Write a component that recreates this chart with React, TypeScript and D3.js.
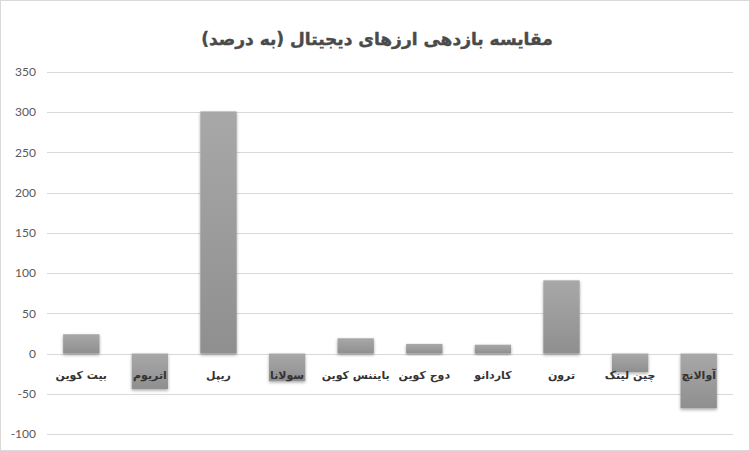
import React, { useEffect, useRef } from 'react';
import * as d3 from 'd3';

const W = 750;
const H = 451;

const TITLE = 'مقایسه بازدهی ارزهای دیجیتال (به درصد)';
const coins = ['بیت کوین', 'اتریوم', 'ریپل', 'سولانا', 'بایننس کوین', 'دوج کوین', 'کاردانو', 'ترون', 'چین لینک', 'آوالانچ'];
const returns = [24, -44, 301, -34, 19, 12, 11, 91, -23, -68];
const yTicks = [-100, -50, 0, 50, 100, 150, 200, 250, 300, 350];

export default function App() {
  const svgRef = useRef<SVGSVGElement>(null);

  useEffect(() => {
    document.body.style.margin = '0';
    if (!svgRef.current) return;
    const svg = d3.select(svgRef.current);
    svg.selectAll('*').remove();

    const margin = { top: 72, right: 17, bottom: 17, left: 47 };

    const x = d3.scaleBand<string>()
      .domain(coins)
      .range([margin.left, W - margin.right])
      .paddingInner(0.47)
      .paddingOuter(0.235);

    const y = d3.scaleLinear()
      .domain([-100, 350])
      .range([H - margin.bottom, margin.top]);

    const defs = svg.append('defs');
    const grad = defs.append('linearGradient')
      .attr('id', 'barGrad')
      .attr('x1', 0).attr('y1', 0).attr('x2', 0).attr('y2', 1);
    grad.append('stop').attr('offset', '0%').attr('stop-color', '#a8a8a8');
    grad.append('stop').attr('offset', '100%').attr('stop-color', '#8f8f8f');

    const shadow = defs.append('filter')
      .attr('id', 'shadow')
      .attr('x', '-20%').attr('y', '-20%').attr('width', '140%').attr('height', '140%');
    shadow.append('feDropShadow')
      .attr('dx', 0).attr('dy', 1.5)
      .attr('stdDeviation', 1.5)
      .attr('flood-color', '#000')
      .attr('flood-opacity', 0.35);

    // frame
    svg.append('rect')
      .attr('x', 0.5).attr('y', 0.5)
      .attr('width', W - 1).attr('height', H - 1)
      .attr('fill', '#fff')
      .attr('stroke', '#d9d9d9');

    // gridlines
    svg.append('g')
      .selectAll('line')
      .data(yTicks)
      .join('line')
      .attr('x1', margin.left)
      .attr('x2', W - margin.right)
      .attr('y1', d => Math.round(y(d)) + 0.5)
      .attr('y2', d => Math.round(y(d)) + 0.5)
      .attr('stroke', '#d9d9d9')
      .attr('stroke-width', 1);

    // y labels
    svg.append('g')
      .selectAll('text')
      .data(yTicks)
      .join('text')
      .attr('x', 36)
      .attr('y', d => y(d))
      .attr('dy', '0.35em')
      .attr('text-anchor', 'end')
      .attr('font-family', 'Lato, "Liberation Sans", sans-serif')
      .attr('font-size', 12)
      .attr('fill', '#595959')
      .text(d => d);

    // bars
    svg.append('g')
      .selectAll('rect')
      .data(returns)
      .join('rect')
      .attr('x', (_, i) => x(coins[i])!)
      .attr('width', x.bandwidth())
      .attr('y', d => y(Math.max(0, d)))
      .attr('height', d => Math.abs(y(d) - y(0)))
      .attr('fill', 'url(#barGrad)')
      .attr('filter', 'url(#shadow)');

    // category labels
    svg.append('g')
      .selectAll('text')
      .data(coins)
      .join('text')
      .attr('x', d => x(d)! + x.bandwidth() / 2)
      .attr('y', y(0) + 25)
      .attr('text-anchor', 'middle')
      .attr('direction', 'rtl')
      .attr('font-family', '"DejaVu Sans", sans-serif')
      .attr('font-weight', 'bold')
      .attr('font-size', 11)
      .attr('fill', '#333333')
      .text(d => d);

    // title
    svg.append('text')
      .attr('x', W / 2 + 2)
      .attr('y', 45)
      .attr('text-anchor', 'middle')
      .attr('direction', 'rtl')
      .attr('font-family', '"DejaVu Sans", sans-serif')
      .attr('font-weight', 'bold')
      .attr('font-size', 17)
      .attr('fill', '#4a4a4a')
      .attr('stroke', '#4a4a4a')
      .attr('stroke-width', 0.4)
      .text(TITLE);
  }, []);

  return (
    <svg
      ref={svgRef}
      width={W}
      height={H}
      style={{ position: 'absolute', left: 0, top: 0, display: 'block' }}
    />
  );
}
